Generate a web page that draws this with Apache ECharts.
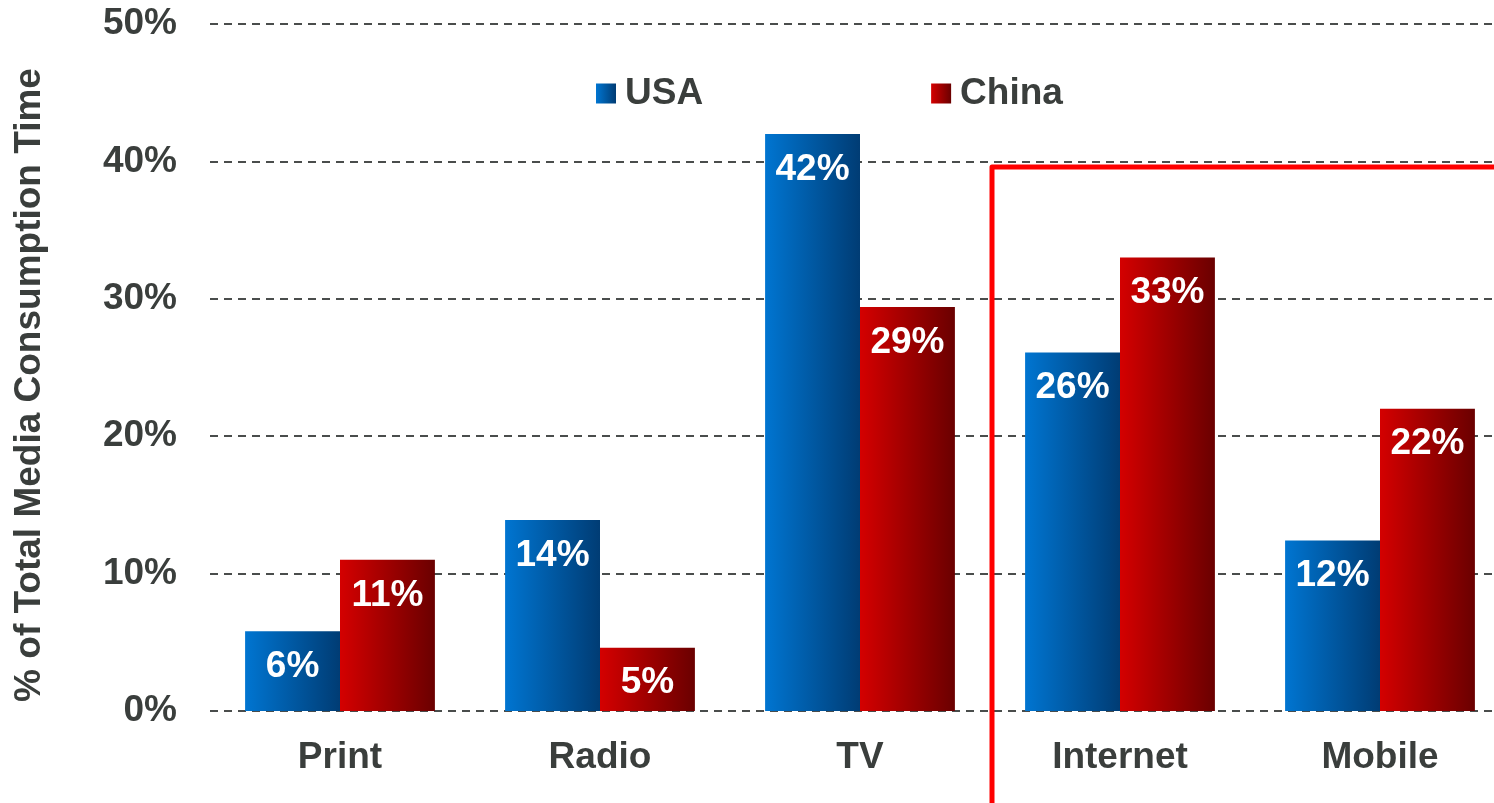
<!DOCTYPE html>
<html>
<head>
<meta charset="utf-8">
<script src="https://cdn.jsdelivr.net/npm/echarts@6/dist/echarts.min.js"></script>
<style>
html,body{margin:0;padding:0;background:#fff;}
#main{width:1494px;height:803px;}
</style>
</head>
<body>
<div id="main"></div>
<script>
var categories = ['Print', 'Radio', 'TV', 'Internet', 'Mobile'];
var usaValues = [5.8, 13.9, 42.0, 26.1, 12.4];
var chinaValues = [11.0, 4.6, 29.4, 33.0, 22.0];
var seriesNames = ['USA', 'China'];
var yTicks = [0, 10, 20, 30, 40, 50];
var highlightLevel = 39.6;

var FONT = '"Liberation Sans", Arial, sans-serif';
var TEXT = '#3a3e3c';

var blueGrad = new echarts.graphic.LinearGradient(0, 0, 1, 0, [
  {offset: 0, color: '#0075d1'},
  {offset: 1, color: '#003c74'}
]);
var redGrad = new echarts.graphic.LinearGradient(0, 0, 1, 0, [
  {offset: 0, color: '#d40000'},
  {offset: 1, color: '#6a0000'}
]);

var labelCfg = {
  show: true,
  position: 'insideTop',
  distance: 17,
  color: '#ffffff',
  fontFamily: FONT,
  fontWeight: 'bold',
  fontSize: 37,
  formatter: function (p) { return Math.round(p.value) + '%'; }
};

var chart = echarts.init(document.getElementById('main'), null, {renderer: 'canvas'});
chart.setOption({
  animation: false,
  backgroundColor: '#ffffff',
  grid: {left: 210, width: 1300, top: 24, bottom: 92, containLabel: false, outerBoundsMode: 'none'},
  legend: {
    data: seriesNames,
    left: 596,
    top: 75,
    padding: 0,
    itemWidth: 20,
    itemHeight: 20,
    itemGap: 228,
    icon: 'rect',
    textStyle: {color: TEXT, fontFamily: FONT, fontWeight: 'bold', fontSize: 37, padding: [0, 0, 0, 4]}
  },
  xAxis: {
    type: 'category',
    data: categories,
    axisLine: {show: false},
    axisTick: {show: false},
    axisLabel: {color: TEXT, fontFamily: FONT, fontWeight: 'bold', fontSize: 37, margin: 28}
  },
  yAxis: {
    type: 'value',
    min: yTicks[0],
    max: yTicks[yTicks.length - 1],
    interval: yTicks[1] - yTicks[0],
    name: '% of Total Media Consumption Time',
    nameLocation: 'middle',
    nameGap: 162,
    nameTextStyle: {color: TEXT, fontFamily: FONT, fontWeight: 'bold', fontSize: 37, padding: [0, 35, 0, 0]},
    axisLine: {show: false},
    axisTick: {show: false},
    axisLabel: {color: TEXT, fontFamily: FONT, fontWeight: 'bold', fontSize: 37, margin: 33, formatter: '{value}%'},
    splitLine: {show: true, lineStyle: {color: '#4a4d4c', width: 2, type: [8, 6]}}
  },
  series: [
    {name: seriesNames[0], type: 'bar', data: usaValues, barGap: '0%', barCategoryGap: '27%',
     itemStyle: {color: blueGrad}, label: labelCfg},
    {name: seriesNames[1], type: 'bar', data: chinaValues, barGap: '0%', barCategoryGap: '27%',
     itemStyle: {color: redGrad}, label: labelCfg}
  ]
});

// red highlight bracket around Internet & Mobile
var pTV = chart.convertToPixel({xAxisIndex: 0}, 'TV');
var pNet = chart.convertToPixel({xAxisIndex: 0}, 'Internet');
var xSplit = (pTV + pNet) / 2 + 2;
var yTop = chart.convertToPixel({yAxisIndex: 0}, highlightLevel);
chart.setOption({
  graphic: [{
    type: 'polyline',
    z: 100,
    shape: {points: [[xSplit, 810], [xSplit, yTop], [1510, yTop]]},
    style: {stroke: '#ff0000', lineWidth: 5, fill: null, lineJoin: 'round'}
  }]
});
</script>
</body>
</html>
